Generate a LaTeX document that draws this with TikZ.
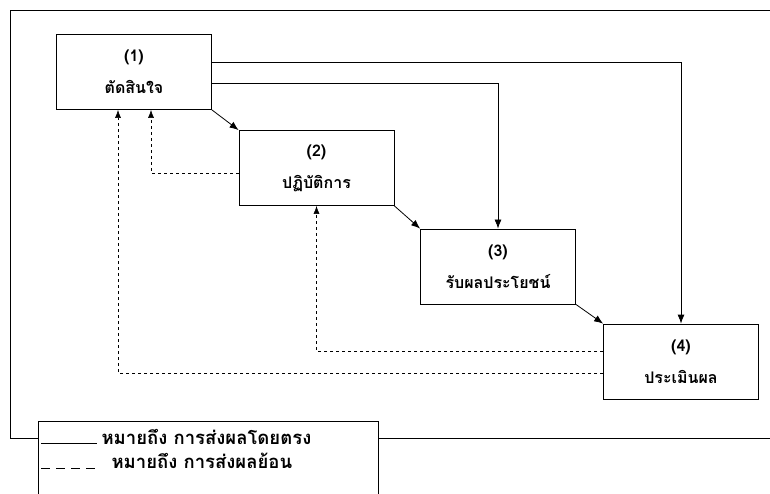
\documentclass[tikz,border=0pt]{standalone}
\usepackage{fontspec}
\newfontfamily\thaifont[Script=Thai]{Loma}
\usetikzlibrary{arrows.meta}

\begin{document}
\begin{tikzpicture}[x=1pt,y=-1pt,
  stage/.style={draw,thick,minimum width=155pt,minimum height=75pt,align=center,
    font=\thaifont\bfseries\fontsize{16}{32}\selectfont},
  direct/.style={thick,-{Latex[length=9pt,width=7pt]}},
  feedback/.style={semithick,dash pattern=on 3pt off 3pt,-{Latex[length=8pt,width=6pt]}},
  legendtext/.style={font=\thaifont\bfseries\fontsize{18.5}{20}\selectfont,anchor=west}]
\useasboundingbox (0,0) rectangle (770,494);
\clip (0,0) rectangle (770,494);
\draw[thick] (10,10) rectangle (800,438);
\node[stage] (b1) at (134,72) {(1)\\ตัดสินใจ};
\node[stage] (b2) at (316.5,168) {(2)\\ปฏิบัติการ};
\node[stage] (b3) at (498,266.5) {(3)\\รับผลประโยชน์};
\node[stage] (b4) at (681,361.5) {(4)\\ประเมินผล};
\draw[direct] (b1.south east) -- (b2.north west);
\draw[direct] (b2.south east) -- (b3.north west);
\draw[direct] (b3.south east) -- (b4.north west);
\draw[direct] ([yshift=10pt]b1.east) -| (b4.north);
\draw[direct] ([yshift=-11pt]b1.east) -| (b3.north);
\draw[feedback] ([yshift=-5pt]b2.west) -| ([xshift=17pt]b1.south);
\draw[feedback] ([yshift=10.5pt]b4.west) -| (b2.south);
\draw[feedback] ([yshift=-11.5pt]b4.west) -| ([xshift=-16pt]b1.south);
% legend
\draw[thick,fill=white] (38,421) rectangle (378,520);
\coordinate (s1) at (41,443);
\coordinate (s2) at (97,443);
\draw[thick] (s1) -- (s2);
\node[legendtext] (t1) at (98,437) {หมายถึง การส่งผลโดยตรง};
\coordinate (d1) at (41,468);
\coordinate (d2) at (99,468);
\draw[semithick,dash pattern=on 9pt off 6pt] (d1) -- (d2);
\node[legendtext] (t2) at (108,461) {หมายถึง การส่งผลย้อน};
\end{tikzpicture}
\end{document}
